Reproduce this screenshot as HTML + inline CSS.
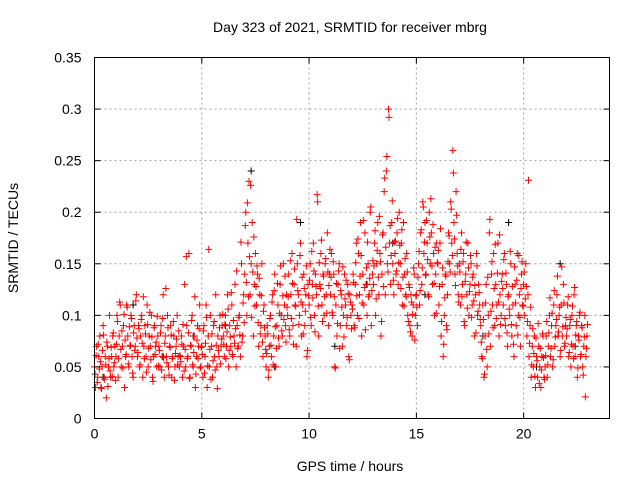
<!DOCTYPE html>
<html><head><meta charset="utf-8">
<style>
html,body{margin:0;padding:0;background:#fff;}
svg{display:block;font-family:"Liberation Sans",sans-serif;}
</style></head>
<body>
<svg id="chart" width="640" height="480" viewBox="0 0 640 480">
<text x="350" y="32" font-size="14" text-anchor="middle">Day 323 of 2021, SRMTID for receiver mbrg</text>
<text x="350" y="471" font-size="14" text-anchor="middle">GPS time / hours</text>
<text x="0" y="0" font-size="14" text-anchor="middle" transform="translate(18,238) rotate(-90)">SRMTID / TECUs</text>
<g id="grid"></g>
<g id="marks"></g>
<g id="axes"></g>
</svg>
<script>
const xTicks=[0,5,10,15,20];
const yTicks=[0,0.05,0.1,0.15,0.2,0.25,0.3,0.35];
const yTickLabels=["0","0.05","0.1","0.15","0.2","0.25","0.3","0.35"];
const sampleStartHours=0;
const sampleStepHours=0.05;
const sample2StartHours=0.025;
const srmtidRed=[
.05,.03,.07,.04,.06,.08,.03,.05,.09,.04,.06,.02,.07,.05,.10,.04,.06,.08,.05,.07,
.06,.10,.04,.08,.11,.05,.07,.09,.03,.06,.11,.08,.05,.07,.10,.06,.04,.09,.07,.12,
.06,.09,.05,.08,.10,.04,.07,.09,.06,.11,.05,.08,.07,.10,.04,.06,.09,.07,.05,.08,
.07,.05,.09,.06,.12,.04,.08,.06,.10,.05,.07,.09,.04,.06,.08,.05,.07,.10,.06,.05,
.06,.08,.04,.07,.13,.05,.09,.06,.16,.04,.07,.10,.05,.08,.03,.06,.09,.07,.11,.05,
.07,.04,.09,.06,.11,.03,.08,.05,.10,.07,.04,.09,.06,.12,.05,.08,.06,.10,.07,.09,
.08,.06,.10,.07,.12,.05,.09,.07,.11,.06,.08,.13,.05,.09,.07,.10,.06,.15,.08,.12,
.14,.20,.10,.17,.23,.12,.15,.19,.08,.13,.16,.11,.14,.07,.12,.09,.15,.06,.11,.08,
.05,.09,.04,.07,.10,.06,.12,.08,.14,.05,.09,.11,.07,.13,.10,.08,.15,.11,.09,.12,
.10,.14,.08,.12,.16,.09,.13,.11,.07,.15,.12,.10,.17,.08,.11,.14,.09,.12,.06,.13,
.11,.15,.09,.13,.17,.10,.14,.12,.21,.08,.13,.16,.11,.14,.10,.15,.12,.18,.09,.14,
.12,.16,.10,.14,.05,.11,.08,.13,.15,.09,.12,.07,.10,.14,.11,.09,.13,.06,.12,.10,
.11,.14,.09,.13,.17,.10,.16,.12,.19,.08,.14,.11,.18,.13,.10,.15,.12,.20,.09,.14,
.13,.17,.10,.15,.19,.12,.16,.08,.14,.18,.22,.12,.24,.15,.30,.17,.13,.19,.15,.12,
.16,.14,.18,.13,.20,.15,.17,.11,.19,.14,.12,.16,.10,.13,.09,.12,.08,.11,.14,.10,
.12,.09,.15,.11,.18,.13,.21,.16,.19,.14,.17,.12,.20,.15,.18,.13,.16,.10,.14,.17,
.15,.11,.17,.08,.13,.06,.10,.14,.09,.12,.18,.15,.21,.17,.26,.19,.14,.22,.16,.12,
.15,.11,.18,.13,.16,.09,.14,.12,.17,.10,.13,.15,.11,.14,.08,.12,.16,.10,.13,.11,
.09,.06,.11,.04,.08,.13,.05,.10,.18,.07,.14,.11,.16,.09,.13,.11,.17,.08,.12,.10,
.14,.11,.16,.09,.13,.07,.12,.10,.15,.08,.11,.06,.13,.09,.16,.10,.12,.07,.14,.11,
.13,.10,.15,.08,.12,.06,.09,.04,.07,.05,.08,.03,.06,.04,.07,.05,.03,.06,.08,.04,
.05,.08,.04,.07,.10,.06,.09,.05,.11,.07,.09,.12,.08,.10,.06,.11,.08,.13,.07,.09,
.08,.11,.06,.09,.05,.10,.07,.12,.06,.09,.04,.08,.10,.06,.09,.05,.07,.10,.06,.08
];
const srmtidRed2=[
.043,.061,.035,.072,.048,.055,.029,.066,.081,.038,.052,.074,.031,.058,.046,.069,.041,.083,.054,.037,
.072,.094,.058,.113,.067,.085,.049,.101,.076,.062,.108,.053,.089,.071,.097,.044,.083,.066,.114,.078,
.064,.087,.052,.096,.073,.118,.058,.082,.045,.091,.068,.103,.057,.079,.036,.088,.062,.074,.099,.051,
.066,.083,.047,.097,.059,.073,.126,.054,.088,.042,.069,.081,.058,.094,.037,.063,.077,.052,.085,.061,
.055,.072,.091,.046,.067,.157,.058,.083,.039,.071,.095,.052,.064,.118,.043,.076,.058,.087,.049,.069,
.062,.085,.044,.073,.098,.051,.164,.067,.038,.082,.056,.094,.047,.071,.029,.066,.088,.053,.077,.101,
.072,.091,.058,.084,.106,.066,.079,.122,.062,.095,.073,.087,.143,.068,.098,.081,.171,.074,.112,.093,
.187,.132,.209,.118,.157,.226,.098,.142,.176,.109,.128,.148,.093,.136,.082,.119,.074,.104,.088,.067,
.063,.082,.047,.097,.071,.113,.052,.124,.089,.068,.131,.078,.102,.148,.085,.119,.096,.138,.074,.108,
.118,.086,.153,.097,.131,.072,.145,.109,.193,.124,.091,.158,.113,.137,.082,.126,.104,.148,.066,.119,
.134,.098,.162,.117,.143,.084,.128,.217,.109,.151,.126,.173,.094,.138,.118,.155,.102,.142,.129,.164,
.137,.103,.152,.118,.049,.131,.092,.143,.068,.124,.108,.147,.079,.116,.134,.098,.121,.057,.113,.087,
.106,.132,.088,.151,.119,.174,.097,.138,.158,.112,.192,.127,.086,.146,.171,.118,.136,.205,.124,.153,
.148,.182,.116,.163,.137,.196,.152,.094,.178,.128,.233,.166,.254,.142,.292,.187,.158,.211,.134,.171,
.172,.143,.194,.151,.168,.126,.183,.137,.109,.155,.118,.142,.094,.127,.084,.113,.101,.146,.076,.119,
.108,.137,.162,.124,.183,.146,.205,.171,.139,.192,.154,.118,.176,.213,.148,.188,.131,.166,.102,.151,
.163,.128,.184,.094,.146,.072,.117,.138,.086,.152,.177,.142,.203,.158,.238,.174,.129,.197,.148,.113,
.142,.164,.118,.152,.094,.133,.171,.107,.146,.123,.158,.098,.137,.114,.129,.083,.148,.104,.122,.096,
.074,.058,.096,.043,.112,.067,.137,.082,.193,.104,.152,.088,.126,.169,.097,.141,.113,.178,.091,.133,
.126,.154,.097,.141,.083,.118,.106,.162,.091,.128,.072,.147,.112,.134,.081,.158,.098,.126,.152,.109,
.142,.116,.128,.094,.231,.073,.108,.052,.087,.063,.041,.078,.056,.092,.034,.068,.047,.082,.059,.038,
.061,.094,.052,.083,.117,.068,.102,.057,.124,.079,.096,.138,.084,.108,.066,.147,.089,.112,.073,.098,
.087,.118,.064,.096,.072,.109,.058,.127,.081,.094,.049,.076,.103,.062,.088,.042,.079,.021,.068,.091
];
const blackTimes=[0.4,1.8,3.2,4.6,6.1,7.3,8.4,9.6,11.2,12.7,13.9,15.4,16.8,18.1,19.3,20.6,21.7,22.4];
const blackValues=[0.04,0.11,0.06,0.08,0.09,0.24,0.05,0.19,0.07,0.13,0.17,0.12,0.14,0.08,0.19,0.05,0.15,0.07];

const L=94.5,R=609.5,T=57.5,B=418.5,X0=0,X1=24,Y0=0,Y1=0.35;
const xs=v=>L+(v-X0)/(X1-X0)*(R-L);
const ys=v=>B-(v-Y0)/(Y1-Y0)*(B-T);
const NS="http://www.w3.org/2000/svg";
function mk(tag,parent,attrs){const e=document.createElementNS(NS,tag);for(const k in attrs)e.setAttribute(k,attrs[k]);parent.appendChild(e);return e;}
const grid=document.getElementById('grid'),marks=document.getElementById('marks'),axes=document.getElementById('axes');
xTicks.forEach(v=>{
  const x=xs(v);
  if(v!==X0){const g=mk('line',grid,{x1:x,x2:x,y1:T,y2:B,stroke:'#a0a0a0','stroke-dasharray':'2,3','stroke-width':1});
  
  }
  const t1=mk('line',axes,{x1:x,x2:x,y1:B,y2:B-6,stroke:'#000'});
  
  
  const t2=mk('line',axes,{x1:x,x2:x,y1:T,y2:T+6,stroke:'#000'});
  
  
  const lb=mk('text',axes,{x:x,y:B+20,'font-size':14,'text-anchor':'middle'});lb.textContent=String(v);
  
  
});
yTicks.forEach((v,i)=>{
  const y=ys(v);
  if(v!==Y0&&v!==Y1){const g=mk('line',grid,{x1:L,x2:R,y1:y,y2:y,stroke:'#a0a0a0','stroke-dasharray':'2,3','stroke-width':1});
  
  }
  const t1=mk('line',axes,{x1:L,x2:L+6,y1:y,y2:y,stroke:'#000'});
  
  
  const t2=mk('line',axes,{x1:R,x2:R-6,y1:y,y2:y,stroke:'#000'});
  
  
  const lb=mk('text',axes,{x:L-13,y:y+5,'font-size':14,'text-anchor':'end'});lb.textContent=yTickLabels[i];
  
  
});
const fr=mk('rect',axes,{x:L,y:T,width:R-L,height:B-T,fill:'none',stroke:'#000','stroke-width':1});


function plus(x,y,col,name){
  const p=mk('path',marks,{d:`M${x-3.5},${y}h7M${x},${y-3.5}v7`,stroke:col,'stroke-width':1,fill:'none'});
  
  
}
blackTimes.forEach((t,i)=>plus(xs(t),ys(blackValues[i]),'#000','point-black'));
srmtidRed.forEach((v,i)=>plus(xs(sampleStartHours+i*sampleStepHours),ys(v),'#ff0000','point-red'));
srmtidRed2.forEach((v,i)=>plus(xs(sample2StartHours+i*sampleStepHours),ys(v),'#ff0000','point-red'));
</script>
</body></html>
